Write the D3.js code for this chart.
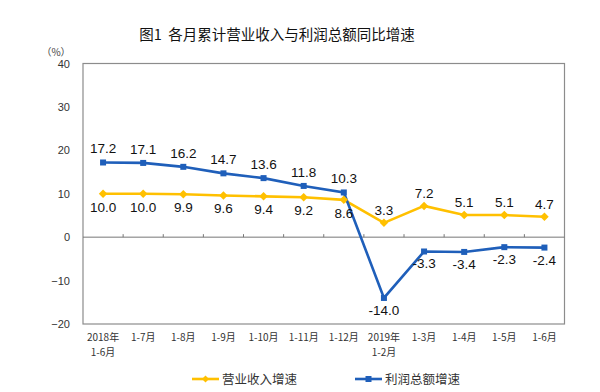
<!DOCTYPE html>
<html>
<head>
<meta charset="utf-8">
<script src="https://cdn.jsdelivr.net/npm/d3@7"></script>
<style>
  body { margin: 0; background: #fff; }
  svg { display: block; }
</style>
</head>
<body>
<script>
// 月份（两行标签）
const months = [
  ["2018年", "1-6月"], ["1-7月"], ["1-8月"], ["1-9月"], ["1-10月"], ["1-11月"], ["1-12月"],
  ["2019年", "1-2月"], ["1-3月"], ["1-4月"], ["1-5月"], ["1-6月"]
];
const revenue = [10.0, 10.0, 9.9, 9.6, 9.4, 9.2, 8.6, 3.3, 7.2, 5.1, 5.1, 4.7];
const profit = [17.2, 17.1, 16.2, 14.7, 13.6, 11.8, 10.3, -14.0, -3.3, -3.4, -2.3, -2.4];
const yTicks = [-20, -10, 0, 10, 20, 30, 40];

const width = 600, height = 392;
const yellow = "#FFC000", blue = "#1F5FBA";
const cjk = "'Noto Sans CJK SC', sans-serif";
const num = "'Liberation Sans', Arial, sans-serif";

const svg = d3.select("body").append("svg")
    .attr("width", width)
    .attr("height", height);

const keys = months.map((d, i) => i);
const x = d3.scaleBand().domain(keys).range([83, 564.5]);
const y = d3.scaleLinear().domain([-20, 40]).range([324, 63.5]);
const cx = i => x(i) + x.bandwidth() / 2;

// 标题
svg.append("text")
    .attr("x", 277).attr("y", 40)
    .attr("text-anchor", "middle")
    .attr("font-family", cjk)
    .attr("font-size", 14.5)
    .attr("fill", "#111")
    .style("white-space", "pre")
    .text("图1  各月累计营业收入与利润总额同比增速");

svg.append("text")
    .attr("x", 56).attr("y", 56)
    .attr("text-anchor", "middle")
    .attr("font-family", cjk)
    .attr("font-size", 10)
    .attr("fill", "#444")
    .text("（%）");

// 绘图区边框
svg.append("rect")
    .attr("x", 83).attr("y", 63.5)
    .attr("width", 481.5).attr("height", 260.5)
    .attr("fill", "none")
    .attr("stroke", "#8c8c8c")
    .attr("stroke-width", 1.2);

// y轴
const yAxis = svg.append("g")
    .attr("transform", "translate(83,0)")
    .call(d3.axisLeft(y).tickValues(yTicks).tickSize(0).tickPadding(13));
yAxis.select(".domain").remove();
yAxis.selectAll("text")
    .attr("font-family", num)
    .attr("font-size", 11)
    .attr("fill", "#333");

// 零线和刻度
svg.append("line")
    .attr("x1", 83).attr("x2", 564.5)
    .attr("y1", y(0)).attr("y2", y(0))
    .attr("stroke", "#777").attr("stroke-width", 1);
svg.append("g").selectAll("line")
  .data(keys.slice(1))
  .join("line")
    .attr("x1", d => x(d)).attr("x2", d => x(d))
    .attr("y1", y(0)).attr("y2", y(0) - 3)
    .attr("stroke", "#777");

// x轴标签
const xl = svg.append("g")
    .attr("font-family", cjk)
    .attr("font-size", 10)
    .attr("fill", "#333")
    .attr("text-anchor", "middle");
months.forEach((m, i) => {
  m.forEach((s, j) => {
    xl.append("text")
        .attr("x", cx(i))
        .attr("y", 341 + j * 15)
        .text(s);
  });
});

// 折线
const line = d3.line().x((d, i) => cx(i)).y(d => y(d));

svg.append("path")
    .datum(revenue)
    .attr("d", line)
    .attr("fill", "none")
    .attr("stroke", yellow)
    .attr("stroke-width", 2.6);

svg.append("path")
    .datum(profit)
    .attr("d", line)
    .attr("fill", "none")
    .attr("stroke", blue)
    .attr("stroke-width", 2.6);

// 标记
svg.append("g").selectAll("path")
  .data(revenue)
  .join("path")
    .attr("transform", (d, i) => `translate(${cx(i)},${y(d)}) rotate(45)`)
    .attr("d", "M-3,-3H3V3H-3Z")
    .attr("fill", yellow);

svg.append("g").selectAll("rect")
  .data(profit)
  .join("rect")
    .attr("x", (d, i) => cx(i) - 3)
    .attr("y", d => y(d) - 3)
    .attr("width", 6).attr("height", 6)
    .attr("fill", blue);

// 数据标签
const lab = svg.append("g")
    .attr("font-family", num)
    .attr("font-size", 13.5)
    .attr("fill", "#111")
    .attr("text-anchor", "middle");

lab.selectAll(".rv")
  .data(revenue)
  .join("text")
    .attr("x", (d, i) => cx(i))
    .attr("y", (d, i) => i < 7 ? y(d) + 18 : y(d) - 8)
    .text(d => d.toFixed(1));

lab.selectAll(".pf")
  .data(profit)
  .join("text")
    .attr("x", (d, i) => cx(i))
    .attr("y", d => d > 0 ? y(d) - 9 : y(d) + 17)
    .text(d => d.toFixed(1));

// 图例
const legend = [
  {name: "营业收入增速", color: yellow, shape: "diamond", x: 192},
  {name: "利润总额增速", color: blue, shape: "square", x: 355}
];
const lg = svg.append("g").selectAll("g")
  .data(legend)
  .join("g")
    .attr("transform", d => `translate(${d.x},379)`);
lg.append("line")
    .attr("x1", 0).attr("x2", 27)
    .attr("stroke", d => d.color)
    .attr("stroke-width", 2.6);
lg.append("path")
    .attr("transform", d => d.shape === "diamond" ? "translate(13.5,0) rotate(45)" : "translate(13.5,0)")
    .attr("d", d => d.shape === "diamond" ? "M-2.5,-2.5H2.5V2.5H-2.5Z" : "M-3,-3H3V3H-3Z")
    .attr("fill", d => d.color);
lg.append("text")
    .attr("x", 30).attr("y", 4.5)
    .attr("font-family", cjk)
    .attr("font-size", 12.5)
    .attr("fill", "#333")
    .text(d => d.name);
</script>
</body>
</html>
